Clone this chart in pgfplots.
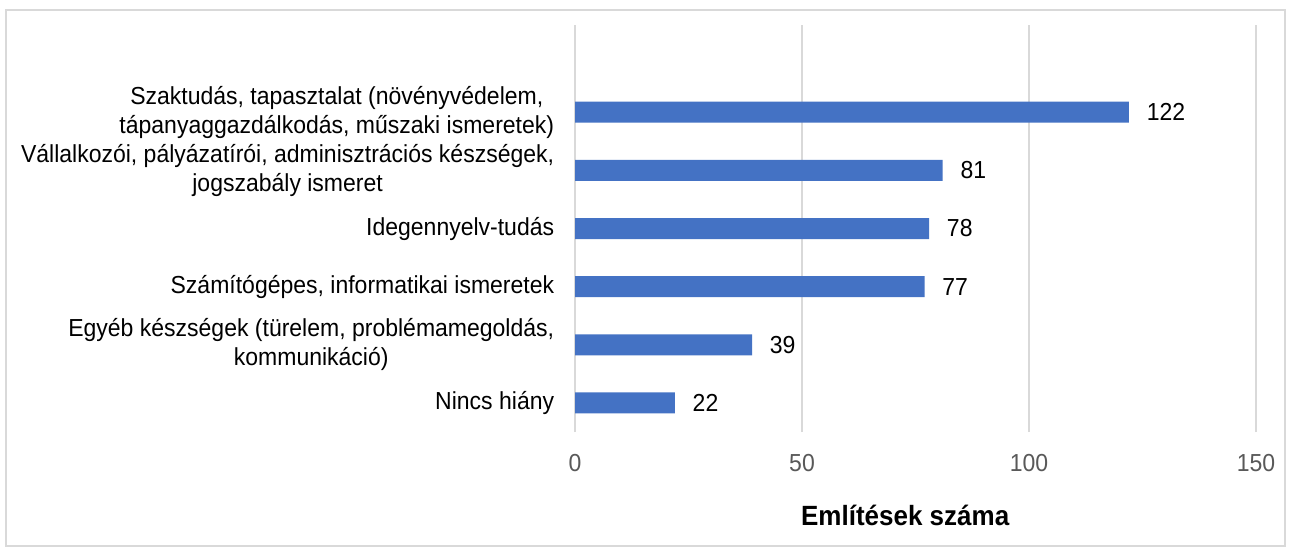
\documentclass[border=0pt]{standalone}
\usepackage{pgfplots}
\pgfplotsset{compat=1.18}
\usepackage{fontspec}
\setmainfont{Liberation Sans}
\definecolor{barblue}{HTML}{4472C4}
\definecolor{gridgray}{HTML}{D9D9D9}
\begin{document}
\fontsize{23pt}{27pt}\selectfont
\begin{tikzpicture}[x=1pt,y=1pt]
\path[fill=white] (0,0) rectangle (1292,552);
\draw[gridgray, line width=1.6pt] (6,6) rectangle (1285,542);
\begin{axis}[
  at={(575pt,120pt)}, anchor=south west,
  scale only axis, width=681pt, height=407pt,
  xmin=0, xmax=150, ymin=-0.5, ymax=6.5,
  axis line style={draw=none},
  major tick length=0pt,
  xmajorgrids,
  grid style={gridgray, line width=1.6pt},
  xtick={0,50,100,150},
  ytick={0,1,2,3,4,5},
  yticklabels={Nincs hiány,
    {Egyéb készségek (türelem, problémamegoldás,\\ kommunikáció)},
    {Számítógépes, informatikai ismeretek},
    Idegennyelv-tudás,
    {Vállalkozói, pályázatírói, adminisztrációs készségek,\\ jogszabály ismeret},
    {Szaktudás, tapasztalat (növényvédelem,\\ tápanyaggazdálkodás, műszaki ismeretek)}},
  yticklabel style={align=center, xshift=-13pt, yscale=1.07},
  xticklabel style={yshift=-14pt, text=black!65, yscale=1.07},
  /pgf/number format/assume math mode=true,
  xlabel={\fontsize{26pt}{30pt}\selectfont\textbf{Említések száma}},
  xlabel style={at={(axis description cs:0.485,0)}, anchor=center, yshift=-83pt, yscale=1.07},
  xbar, bar width=21pt,
  nodes near coords,
  point meta=x,
  nodes near coords style={anchor=west, xshift=10pt, text=black, yscale=1.07},
]
\addplot[fill=barblue, draw=none] coordinates {(22,0) (39,1) (77,2) (78,3) (81,4) (122,5)};
\end{axis}
\end{tikzpicture}
\end{document}
